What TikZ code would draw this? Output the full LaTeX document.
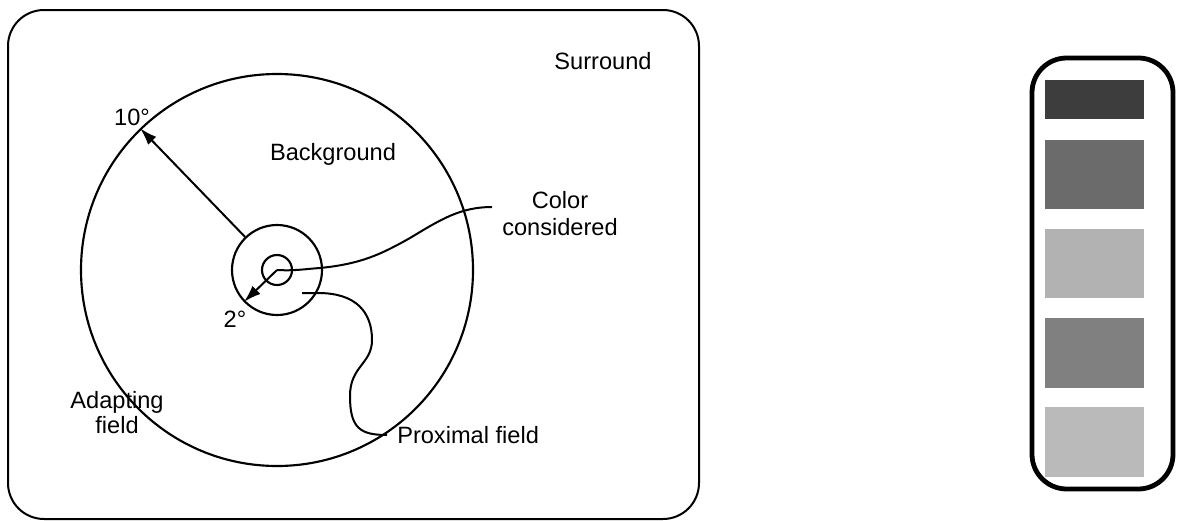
\documentclass[tikz,border=0pt]{standalone}
\usepackage{fontspec}
\setmainfont{Liberation Sans}
\usetikzlibrary{arrows.meta}
\begin{document}
\begin{tikzpicture}[x=0.75pt,y=-0.75pt,
  font=\fontsize{17.7}{20.3}\selectfont,
  field/.style={circle, draw, line width=1.6pt, inner sep=0pt},
  frame/.style={draw, line width=1.5pt, rounded corners=27pt},
  holder/.style={draw, line width=3.6pt, rounded corners=26pt},
  lead/.style={line width=1.5pt},
  ptr/.style={line width=1.5pt, -{Latex[length=13pt,width=8.5pt]}},
  lbl/.style={inner sep=0pt, align=center}]
\useasboundingbox (0,0) rectangle (1178,521);

% surround frame
\draw[frame] (8,10) rectangle (699,519);

% concentric fields
\node[field, minimum size=392*0.75pt] (big)   at (277,270) {};
\node[field, minimum size=90*0.75pt]  (mid)   at (277,270) {};
\node[field, minimum size=30*0.75pt]  (small) at (277,270) {};

% labels
\node[lbl, anchor=base] (surround) at (603,69) {Surround};
\node[lbl, anchor=base] (bg) at (333,160) {Background};
\node[lbl, anchor=north] (color) at (560,191) {Color\\considered};
\node[lbl, anchor=north, font=\fontsize{17.7}{18.8}\selectfont] (adapt) at (117,391) {Adapting\\field};
\node[lbl, anchor=base west] (prox) at (397,443) {Proximal field};
\node[lbl, anchor=base] (ten) at (132,125) {10°};
\node[lbl, anchor=base] (two) at (235,327) {2°};

% angle pointers
\draw[ptr] (mid.134) -- (big.134);
\draw[ptr] (small.center) -- (mid.224);

% leader lines
\coordinate (cend) at (492,207);
\coordinate (pstart) at (302,293);
\coordinate (pend) at (387,435);
\draw[lead] (small.center) .. controls (295,271) and (305,269) .. (320,268)
  .. controls (360,264) and (380,255) .. (410,238)
  .. controls (440,220) and (460,207) .. (cend);
\draw[lead] (pstart) -- (318,293)
  .. controls (356,293) and (372,312) .. (372,340)
  .. controls (372,364) and (350,366) .. (350,396)
  .. controls (350,428) and (360,435) .. (pend);

% sample card
\draw[holder] (1032,58) rectangle (1173,489);
\fill[black!76] (1045,80)  rectangle (1144,119);
\fill[black!58] (1045,140) rectangle (1144,209);
\fill[black!30] (1045,229) rectangle (1144,298);
\fill[black!50] (1045,318) rectangle (1144,388);
\fill[black!27] (1045,407) rectangle (1144,477);
\end{tikzpicture}
\end{document}
